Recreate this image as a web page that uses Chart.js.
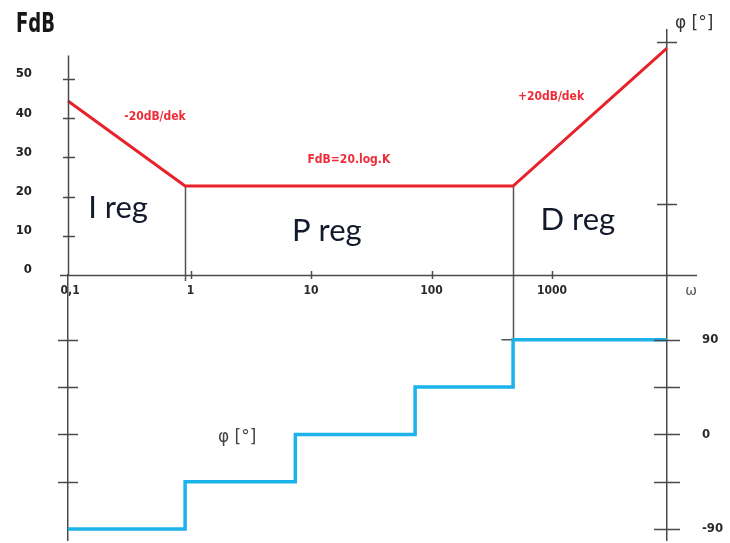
<!DOCTYPE html>
<html>
<head>
<meta charset="utf-8">
<script src="https://cdn.jsdelivr.net/npm/chart.js@4.4.1/dist/chart.umd.min.js"></script>
<style>
  html, body { margin: 0; padding: 0; background: #ffffff; }
  #wrap { position: relative; width: 730px; height: 543px; }
  canvas { display: block; }
</style>
</head>
<body>
<div id="wrap"><canvas id="bode" width="730" height="543"></canvas></div>
<script>
// Asymptotic Bode sketch of a PID controller: gain (top) and phase (bottom).
const omegaRange = [0.096, 9000];
const gainRange = [0, 62.5];
const phaseRange = [-100.5, 151.7];

// Magnitude asymptote |F| in dB
const omegaGain = [0.096, 0.9, 475, 9000];
const gainDb = [44.4, 22.7, 22.7, 57.9];

// Phase staircase in degrees
const omegaPhase = [0.096, 0.9, 7.4, 73, 475, 9000];
const phaseDeg = [-90, -45, 0, 45, 90, 90];

// Corner frequencies marked with guide lines
const guideOmega = [0.9, 475];
const guideGain = [22.7, 22.7];
const guidePhase = [null, 90];

// Axis ticks and labels
const omegaTicks = [0.1, 1, 10, 100, 1000];
const omegaTickLabels = ['0,1', '1', '10', '100', '1000'];
const gainTicks = [0, 10, 20, 30, 40, 50];
const gainRightTicks = [18, 59.5];
const phaseTicks = [-90, -45, 0, 45, 90];
const phaseTickLabels = ['-90', '', '0', '', '90'];
const phaseLeftTicks = [-45, 0, 45, 90];

const AXIS = '#4a4a4a';
const RED = '#e8222b';
const BLUE = '#1cb2ea';
const COND = "'DejaVu Sans Condensed', 'DejaVu Sans', sans-serif";

const setTicks = values => scale => { scale.ticks = values.map(v => ({ value: v })); };
// fixed axis widths; label overhang must not shrink the plot frame
const fixWidth = w => scale => {
  scale.width = w;
  scale.paddingTop = 0;
  scale.paddingBottom = 0;
};

const sketch = {
  id: 'bodeSketch',
  beforeDatasetsDraw(chart) {
    const { ctx, scales } = chart;
    const x = scales.x, yMag = scales.yMag, yPh = scales.yPhase;
    const axisY = yMag.getPixelForValue(0);
    ctx.save();
    ctx.strokeStyle = '#555';
    ctx.lineWidth = 1.5;
    ctx.beginPath();
    guideOmega.forEach((w, i) => {
      const px = Math.round(x.getPixelForValue(w)) + 0.5;
      const top = yMag.getPixelForValue(guideGain[i]);
      const bottom = guidePhase[i] === null ? axisY + 6 : yPh.getPixelForValue(guidePhase[i]);
      ctx.moveTo(px, top);
      ctx.lineTo(px, bottom);
      if (guidePhase[i] !== null) { ctx.moveTo(px - 12, bottom); ctx.lineTo(px, bottom); }
    });
    ctx.stroke();
    ctx.restore();
  },
  afterDraw(chart, args, opts) {
    const { ctx, scales, chartArea } = chart;
    const x = scales.x, yMag = scales.yMag, yPh = scales.yPhase;
    const left = chartArea.left, right = chartArea.right;
    const axisY = yMag.getPixelForValue(0);
    ctx.save();
    ctx.strokeStyle = AXIS;
    ctx.lineWidth = 1.5;
    ctx.beginPath();
    // omega axis, running past both frames
    ctx.moveTo(left - 8, axisY + 0.5);
    ctx.lineTo(right + 30, axisY + 0.5);
    // upper part of the gain axis
    ctx.moveTo(left + 0.5, yMag.getPixelForValue(56));
    ctx.lineTo(left + 0.5, axisY);
    // tick marks crossing the axes
    omegaTicks.slice(1).forEach(w => {
      const px = Math.round(x.getPixelForValue(w)) + 0.5;
      ctx.moveTo(px, axisY - 4); ctx.lineTo(px, axisY + 4);
    });
    gainTicks.slice(1).forEach(v => {
      const py = Math.round(yMag.getPixelForValue(v)) + 0.5;
      ctx.moveTo(left - 5, py); ctx.lineTo(left + 7, py);
    });
    phaseLeftTicks.forEach(v => {
      const py = Math.round(yPh.getPixelForValue(v)) + 0.5;
      ctx.moveTo(left - 10, py); ctx.lineTo(left + 10, py);
    });
    gainRightTicks.forEach(v => {
      const py = Math.round(yMag.getPixelForValue(v)) + 0.5;
      ctx.moveTo(right - 10, py); ctx.lineTo(right + 10, py);
    });
    phaseTicks.forEach(v => {
      const py = Math.round(yPh.getPixelForValue(v)) + 0.5;
      ctx.moveTo(right - 13, py); ctx.lineTo(right + 13, py);
    });
    ctx.stroke();

    // slope and level notes on the gain curve
    ctx.fillStyle = '#ee2c38';
    ctx.font = 'bold 12px ' + COND;
    ctx.textAlign = 'center';
    ctx.textBaseline = 'middle';
    opts.notes.forEach(n => {
      ctx.fillText(n.text, x.getPixelForValue(n.omega), yMag.getPixelForValue(n.db));
    });

    // controller regions
    ctx.fillStyle = '#131a2b';
    ctx.font = '31px Lato, sans-serif';
    ctx.textBaseline = 'alphabetic';
    opts.regions.forEach(r => {
      ctx.fillText(r.text, x.getPixelForValue(r.omega), yMag.getPixelForValue(r.db));
    });

    // phase curve caption
    ctx.fillStyle = '#444';
    ctx.font = '17px "DejaVu Sans", sans-serif';
    ctx.textBaseline = 'middle';
    ctx.fillText('\u03C6 [\u00B0]', x.getPixelForValue(2.43), yPh.getPixelForValue(-3.4));

    // axis titles
    ctx.fillStyle = '#333';
    ctx.textAlign = 'left';
    ctx.textBaseline = 'alphabetic';
    ctx.fillText('\u03C6 [\u00B0]', right + 8, chartArea.top - 2);
    ctx.fillStyle = '#555';
    ctx.font = '14px "DejaVu Sans", sans-serif';
    ctx.textAlign = 'center';
    ctx.textBaseline = 'middle';
    ctx.fillText('\u03C9', right + 24, axisY + 16);

    ctx.fillStyle = '#161616';
    ctx.font = 'bold 26px ' + COND;
    ctx.textAlign = 'left';
    ctx.textBaseline = 'alphabetic';
    const w = ctx.measureText('FdB').width;
    ctx.translate(16, 32);
    ctx.scale(39 / w, 1);
    ctx.fillText('FdB', 0, 0);
    ctx.restore();
  }
};

const tickFont = { family: COND, size: 13, weight: 'bold' };

new Chart(document.getElementById('bode'), {
  type: 'line',
  data: {
    datasets: [
      {
        label: 'FdB',
        data: omegaGain.map((w, i) => ({ x: w, y: gainDb[i] })),
        yAxisID: 'yMag',
        borderColor: RED,
        borderWidth: 3,
        pointRadius: 0,
        tension: 0,
        clip: false
      },
      {
        label: '\u03C6',
        data: omegaPhase.map((w, i) => ({ x: w, y: phaseDeg[i] })),
        yAxisID: 'yPhase',
        stepped: 'before',
        borderColor: BLUE,
        borderWidth: 3.5,
        borderJoinStyle: 'miter',
        pointRadius: 0,
        clip: false
      }
    ]
  },
  options: {
    responsive: false,
    animation: false,
    devicePixelRatio: 1,
    layout: { padding: { left: 0, right: 0, top: 30, bottom: 3 } },
    plugins: {
      legend: { display: false },
      tooltip: { enabled: false },
      bodeSketch: {
        notes: [
          { text: '-20dB/dek', omega: 0.506, db: 40.4 },
          { text: 'FdB=20.log.K', omega: 20.6, db: 29.3 },
          { text: '+20dB/dek', omega: 980, db: 45.4 }
        ],
        regions: [
          { text: 'I reg', omega: 0.25, db: 14.5 },
          { text: 'P reg', omega: 13.5, db: 8.7 },
          { text: 'D reg', omega: 1640, db: 11.5 }
        ]
      }
    },
    scales: {
      x: {
        type: 'logarithmic',
        min: omegaRange[0],
        max: omegaRange[1],
        position: { yMag: 0 },
        grid: { display: false, drawTicks: false },
        border: { display: false },
        afterBuildTicks: setTicks(omegaTicks),
        afterFit: s => { s.height = 0; s.paddingLeft = 0; s.paddingRight = 0; },
        ticks: {
          autoSkip: false,
          maxRotation: 0,
          padding: 9,
          font: { family: COND, size: 12, weight: 'bold' },
          color: '#2a2a2a',
          callback: (v, i) => omegaTickLabels[i]
        }
      },
      yMag: {
        type: 'linear',
        position: 'left',
        stack: 'left',
        stackWeight: 245,
        weight: 2,
        min: gainRange[0],
        max: gainRange[1],
        grid: { display: false, drawTicks: false },
        border: { display: false },
        afterBuildTicks: setTicks(gainTicks),
        afterFit: fixWidth(68),
        ticks: { padding: 36, labelOffset: -5, font: tickFont, color: '#222', callback: v => String(v) }
      },
      yPhaseL: {
        type: 'linear',
        position: 'left',
        stack: 'left',
        stackWeight: 265,
        weight: 1,
        min: phaseRange[0],
        max: phaseRange[1],
        grid: { display: false, drawTicks: false },
        border: { display: true, color: AXIS, width: 1.5 },
        afterFit: fixWidth(68),
        ticks: { display: false }
      },
      yMagR: {
        type: 'linear',
        position: 'right',
        stack: 'right',
        stackWeight: 245,
        weight: 1,
        min: gainRange[0],
        max: gainRange[1],
        grid: { display: false, drawTicks: false },
        border: { display: true, color: AXIS, width: 1.5 },
        afterFit: fixWidth(63),
        ticks: { display: false }
      },
      yPhase: {
        type: 'linear',
        position: 'right',
        stack: 'right',
        stackWeight: 265,
        weight: 2,
        min: phaseRange[0],
        max: phaseRange[1],
        grid: { display: false, drawTicks: false },
        border: { display: true, color: AXIS, width: 1.5 },
        afterBuildTicks: setTicks(phaseTicks),
        afterFit: fixWidth(63),
        ticks: { padding: 35, font: tickFont, color: '#2a2a2a', callback: (v, i) => phaseTickLabels[i] }
      }
    }
  },
  plugins: [sketch]
});
</script>
</body>
</html>
